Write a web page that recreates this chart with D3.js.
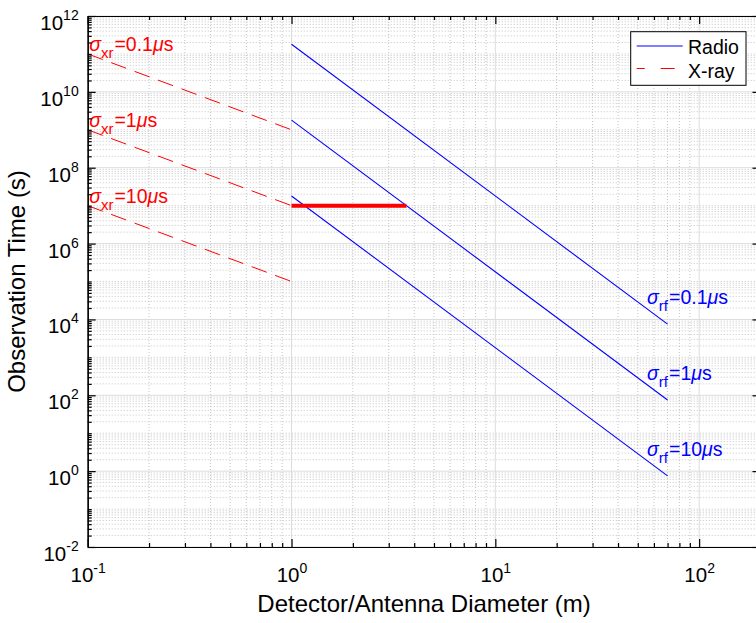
<!DOCTYPE html>
<html>
<head>
<meta charset="utf-8">
<script src="https://cdn.jsdelivr.net/npm/d3@7"></script>
<style>
  html, body { margin: 0; padding: 0; background: #fff; }
  svg { display: block; font-family: "Liberation Sans", Arial, Helvetica, sans-serif; }
</style>
</head>
<body>
<svg id="chart" width="756" height="623"></svg>
<script>
// Observation time versus detector / antenna diameter (log-log)
const radioDiameter = [1, 70];
const radioSigma01 = [1.8e11, 7.5e3];
const radioSigma1 = [1.8e9, 75];
const radioSigma10 = [1.8e7, 0.75];
const radioLabels = ["0.1", "1", "10"];

const xrayDiameter = [0.1, 1];
const xraySigma01 = [1e11, 1e9];
const xraySigma1 = [1e9, 1e7];
const xraySigma10 = [1e7, 1e5];
const xrayLabels = ["0.1", "1", "10"];

const thresholdDiameter = [1, 3.66];
const thresholdTime = [1e7, 1e7];

const xTicks = [0.1, 1, 10, 100];
const xTickExp = ["-1", "0", "1", "2"];
const yTicks = [1e-2, 1e0, 1e2, 1e4, 1e6, 1e8, 1e10, 1e12];
const yTickExp = ["-2", "0", "2", "4", "6", "8", "10", "12"];

const legendNames = ["Radio", "X-ray"];

const BLUE = "#0000ff", RED = "#ff0000";
const plot = { left: 87.7, right: 760.5, top: 16, bottom: 547 };

const svg = d3.select("#chart");
const x = d3.scaleLog().domain([0.1, 200]).range([plot.left, plot.right]);
const y = d3.scaleLog().domain([1e-2, 1e12]).range([plot.bottom, plot.top]);

const isMajorX = v => xTicks.some(t => Math.abs(Math.log10(v) - Math.log10(t)) < 1e-9);
const isMajorY = v => yTicks.some(t => Math.abs(Math.log10(v) - Math.log10(t)) < 1e-9);
const xMinor = x.ticks().filter(v => !isMajorX(v));
const yMinor = y.ticks(20).filter(v => !isMajorY(v));

// grid: dotted minor lines, solid light major lines
const grid = svg.append("g");
grid.selectAll("line.xmin").data(xMinor).join("line")
  .attr("x1", d => x(d)).attr("x2", d => x(d))
  .attr("y1", plot.top).attr("y2", plot.bottom)
  .attr("stroke", "#c4c4c4").attr("stroke-width", 1).attr("stroke-dasharray", "1,2");
grid.selectAll("line.ymin").data(yMinor).join("line")
  .attr("y1", d => y(d)).attr("y2", d => y(d))
  .attr("x1", plot.left).attr("x2", plot.right)
  .attr("stroke", "#c4c4c4").attr("stroke-width", 1).attr("stroke-dasharray", "1,2");
grid.selectAll("line.xmaj").data(xTicks).join("line")
  .attr("x1", d => x(d)).attr("x2", d => x(d))
  .attr("y1", plot.top).attr("y2", plot.bottom)
  .attr("stroke", "#dcdcdc").attr("stroke-width", 1);
grid.selectAll("line.ymaj").data(yTicks).join("line")
  .attr("y1", d => y(d)).attr("y2", d => y(d))
  .attr("x1", plot.left).attr("x2", plot.right)
  .attr("stroke", "#dcdcdc").attr("stroke-width", 1);

// data lines
const line = d3.line().x(d => x(d[0])).y(d => y(d[1]));
const pairs = (xs, ys) => xs.map((v, i) => [v, ys[i]]);

const xraySeries = [xraySigma01, xraySigma1, xraySigma10];
const radioSeries = [radioSigma01, radioSigma1, radioSigma10];

svg.append("g").selectAll("path").data(xraySeries).join("path")
  .attr("d", s => line(pairs(xrayDiameter, s)))
  .attr("fill", "none").attr("stroke", RED).attr("stroke-width", 1)
  .attr("stroke-dasharray", "16,9");

svg.append("g").selectAll("path").data(radioSeries).join("path")
  .attr("d", s => line(pairs(radioDiameter, s)))
  .attr("fill", "none").attr("stroke", BLUE).attr("stroke-width", 1.1);

svg.append("path")
  .attr("d", line(pairs(thresholdDiameter, thresholdTime)))
  .attr("fill", "none").attr("stroke", RED).attr("stroke-width", 4);

// sigma annotations
function sigmaLabel(px, py, sub, val, color) {
  const t = svg.append("text").attr("x", px).attr("y", py)
    .attr("fill", color).attr("font-size", 19.5);
  t.append("tspan").attr("font-style", "italic").text("σ");
  t.append("tspan").attr("font-size", 15).attr("dy", 7).text(sub);
  t.append("tspan").attr("dy", -7).attr("dx", 1).text("=" + val);
  t.append("tspan").attr("font-style", "italic").text("μ");
  t.append("tspan").text("s");
}
xraySeries.forEach((s, i) => {
  sigmaLabel(x(xrayDiameter[0]) + 1.5, y(s[0]) - 3, "xr", xrayLabels[i], RED);
});
radioSeries.forEach((s, i) => {
  const n = s.length - 1;
  sigmaLabel(x(radioDiameter[n]) - 20.5, y(s[n]) - 20, "rf", radioLabels[i], BLUE);
});

// axes (ticks point inward, box on all sides)
function superscriptTicks(g, exps, anchor, mainDy, supDy) {
  g.selectAll(".tick text").each(function(d, i) {
    const t = d3.select(this);
    t.text(null).attr("dy", null).attr("text-anchor", anchor)
      .attr("fill", "#000").attr("font-size", 20.5);
    t.append("tspan").attr("dy", mainDy).text("10");
    t.append("tspan").attr("font-size", 14).attr("dy", supDy).text(exps[i]);
  });
}

const axes = svg.append("g");
const gxB = axes.append("g").attr("transform", `translate(0,${plot.bottom})`)
  .call(d3.axisBottom(x).tickValues(xTicks).tickSizeInner(-8).tickSizeOuter(0).tickPadding(0));
superscriptTicks(gxB, xTickExp, "middle", 35, -9.5);
axes.append("g").attr("transform", `translate(0,${plot.bottom})`)
  .call(d3.axisBottom(x).tickValues(xMinor).tickSizeInner(-4).tickSizeOuter(0).tickFormat(""));

const gyL = axes.append("g").attr("transform", `translate(${plot.left},0)`)
  .call(d3.axisLeft(y).tickValues(yTicks).tickSizeInner(-8).tickSizeOuter(0).tickPadding(9));
superscriptTicks(gyL, yTickExp, "end", 13.5, -10);
axes.append("g").attr("transform", `translate(${plot.left},0)`)
  .call(d3.axisLeft(y).tickValues(yMinor).tickSizeInner(-4).tickSizeOuter(0).tickFormat(""));

axes.append("g").attr("transform", `translate(0,${plot.top})`)
  .call(d3.axisTop(x).tickValues(xTicks).tickSizeInner(-8).tickSizeOuter(0).tickFormat(""));
axes.append("g").attr("transform", `translate(0,${plot.top})`)
  .call(d3.axisTop(x).tickValues(xMinor).tickSizeInner(-4).tickSizeOuter(0).tickFormat(""));
axes.append("g").attr("transform", `translate(${plot.right},0)`)
  .call(d3.axisRight(y).tickValues(yTicks).tickSizeInner(-8).tickSizeOuter(0).tickFormat(""));
axes.append("g").attr("transform", `translate(${plot.right},0)`)
  .call(d3.axisRight(y).tickValues(yMinor).tickSizeInner(-4).tickSizeOuter(0).tickFormat(""));
axes.selectAll("path.domain").attr("stroke", "#000").attr("stroke-width", 1.2);
axes.selectAll(".tick line").attr("stroke", "#000").attr("stroke-width", 1.2);

// axis titles
svg.append("text")
  .attr("x", (plot.left + plot.right) / 2).attr("y", 612)
  .attr("text-anchor", "middle").attr("font-size", 24).attr("fill", "#000")
  .text("Detector/Antenna Diameter (m)");
svg.append("text")
  .attr("transform", `translate(25,${(plot.top + plot.bottom) / 2}) rotate(-90)`)
  .attr("text-anchor", "middle").attr("font-size", 24).attr("fill", "#000")
  .text("Observation Time (s)");

// legend
const lg = svg.append("g");
lg.append("rect").attr("x", 630.7).attr("y", 31.7).attr("width", 115.3).attr("height", 53.6)
  .attr("fill", "#fff").attr("stroke", "#000").attr("stroke-width", 1);
const legendStyles = [
  { color: BLUE, dash: null, ly: 46, ty: 53.5 },
  { color: RED, dash: "8,16,14,20", ly: 68.5, ty: 78 }
];
legendNames.forEach((name, i) => {
  const st = legendStyles[i];
  lg.append("line").attr("x1", 636.7).attr("x2", 682.7).attr("y1", st.ly).attr("y2", st.ly)
    .attr("stroke", st.color).attr("stroke-width", 1.1)
    .attr("stroke-dasharray", st.dash);
  lg.append("text").attr("x", 688).attr("y", st.ty).attr("font-size", 19.5)
    .attr("fill", "#000").text(name);
});
</script>
</body>
</html>
